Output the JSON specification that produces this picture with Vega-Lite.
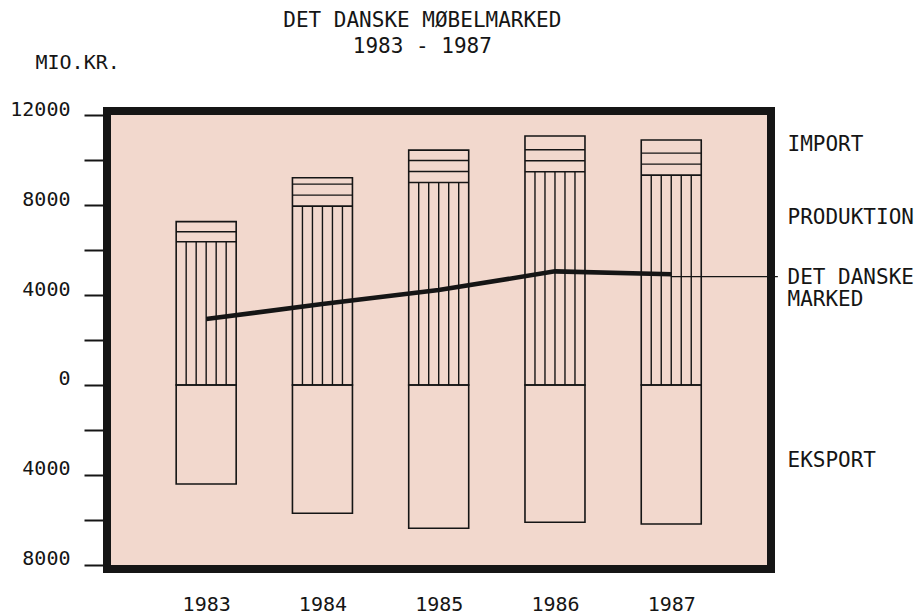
{
  "$schema": "https://vega.github.io/schema/vega-lite/v6.json",
  "width": 664,
  "height": 458,
  "autosize": "none",
  "padding": {"left": 107, "top": 111, "right": 149, "bottom": 45},
  "background": "white",
  "config": {
    "view": {"stroke": "#151515", "strokeWidth": 8, "fill": "#f2d8cd"},
    "font": "DejaVu Sans Mono"
  },
  "data": {
    "values": [
      {"year": 1983, "produktion": 6370, "forsyning": 7260, "eksport": -4400, "marked": 2930},
      {"year": 1984, "produktion": 7950, "forsyning": 9210, "eksport": -5700, "marked": 3600},
      {"year": 1985, "produktion": 9000, "forsyning": 10440, "eksport": -6370, "marked": 4220},
      {"year": 1986, "produktion": 9480, "forsyning": 11070, "eksport": -6100, "marked": 5050},
      {"year": 1987, "produktion": 9330, "forsyning": 10890, "eksport": -6180, "marked": 4920}
    ]
  },
  "layer": [
    {
      "mark": {"type": "rule", "stroke": "#151515", "strokeWidth": 1.5},
      "encoding": {
        "x": {
          "field": "year", "type": "quantitative", "title": null,
          "scale": {"domain": [1982.19, 1987.815], "nice": false, "zero": false},
          "axis": {
            "values": [1983, 1984, 1985, 1986, 1987],
            "format": "d",
            "ticks": false,
            "tickSize": 0,
            "domain": false,
            "grid": false,
            "labelFont": "DejaVu Sans Mono",
            "labelFontSize": 20,
            "labelColor": "#151515",
            "labelBaseline": "alphabetic",
            "labelPadding": 41,
            "labelFlush": false
          }
        },
        "y": {
          "datum": 0, "type": "quantitative", "title": "MIO.KR.",
          "scale": {"domain": [-8178, 12178], "nice": false, "zero": false},
          "axis": {
            "values": [-8000, -6000, -4000, -2000, 0, 2000, 4000, 6000, 8000, 10000, 12000],
            "labelExpr": "datum.value % 4000 == 0 ? format(abs(datum.value), 'd') : ''",
            "domain": false,
            "grid": false,
            "tickSize": 23,
            "tickWidth": 2,
            "tickColor": "#151515",
            "labelFont": "DejaVu Sans Mono",
            "labelFontSize": 20,
            "labelColor": "#151515",
            "labelBaseline": "alphabetic",
            "labelPadding": 14,
            "labelFlush": false,
            "titleFont": "DejaVu Sans Mono",
            "titleFontSize": 20,
            "titleFontWeight": "normal",
            "titleColor": "#151515",
            "titleAngle": 0,
            "titleAlign": "left",
            "titleBaseline": "alphabetic",
            "titleX": -72,
            "titleY": -43
          }
        }
      }
    },
    {
      "mark": {"type": "rule", "xOffset": -20, "stroke": "#151515", "strokeWidth": 1.4},
      "encoding": {
        "x": {"field": "year", "type": "quantitative", "title": null},
        "y": {"field": "produktion", "type": "quantitative", "title": "MIO.KR."},
        "y2": {"datum": 0}
      }
    },
    {
      "mark": {"type": "rule", "xOffset": -10, "stroke": "#151515", "strokeWidth": 1.4},
      "encoding": {
        "x": {"field": "year", "type": "quantitative", "title": null},
        "y": {"field": "produktion", "type": "quantitative", "title": "MIO.KR."},
        "y2": {"datum": 0}
      }
    },
    {
      "mark": {"type": "rule", "xOffset": 0, "stroke": "#151515", "strokeWidth": 1.4},
      "encoding": {
        "x": {"field": "year", "type": "quantitative", "title": null},
        "y": {"field": "produktion", "type": "quantitative", "title": "MIO.KR."},
        "y2": {"datum": 0}
      }
    },
    {
      "mark": {"type": "rule", "xOffset": 10, "stroke": "#151515", "strokeWidth": 1.4},
      "encoding": {
        "x": {"field": "year", "type": "quantitative", "title": null},
        "y": {"field": "produktion", "type": "quantitative", "title": "MIO.KR."},
        "y2": {"datum": 0}
      }
    },
    {
      "mark": {"type": "rule", "xOffset": 20, "stroke": "#151515", "strokeWidth": 1.4},
      "encoding": {
        "x": {"field": "year", "type": "quantitative", "title": null},
        "y": {"field": "produktion", "type": "quantitative", "title": "MIO.KR."},
        "y2": {"datum": 0}
      }
    },
    {
      "mark": {"type": "bar", "width": 60, "fill": "transparent", "stroke": "#151515", "strokeWidth": 1.6},
      "encoding": {
        "x": {"field": "year", "type": "quantitative", "title": null},
        "y": {"field": "forsyning", "type": "quantitative", "title": "MIO.KR."},
        "y2": {"datum": 0}
      }
    },
    {
      "mark": {"type": "bar", "width": 60, "fill": "transparent", "stroke": "#151515", "strokeWidth": 1.6},
      "encoding": {
        "x": {"field": "year", "type": "quantitative", "title": null},
        "y": {"field": "eksport", "type": "quantitative", "title": "MIO.KR."},
        "y2": {"datum": 0}
      }
    },
    {
      "mark": {"type": "tick", "orient": "horizontal", "size": 60, "thickness": 1.6, "color": "#151515", "opacity": 1},
      "encoding": {
        "x": {"field": "year", "type": "quantitative", "title": null},
        "y": {"field": "produktion", "type": "quantitative", "title": "MIO.KR."}
      }
    },
    {
      "transform": [{"filter": "datum.forsyning - datum.produktion < 1000"}],
      "mark": {"type": "tick", "orient": "horizontal", "size": 60, "thickness": 1.4, "yOffset": -10, "color": "#151515", "opacity": 1},
      "encoding": {
        "x": {"field": "year", "type": "quantitative", "title": null},
        "y": {"field": "produktion", "type": "quantitative", "title": "MIO.KR."}
      }
    },
    {
      "transform": [{"filter": "datum.forsyning - datum.produktion >= 1000"}],
      "mark": {"type": "tick", "orient": "horizontal", "size": 60, "thickness": 1.4, "yOffset": -11, "color": "#151515", "opacity": 1},
      "encoding": {
        "x": {"field": "year", "type": "quantitative", "title": null},
        "y": {"field": "produktion", "type": "quantitative", "title": "MIO.KR."}
      }
    },
    {
      "transform": [{"filter": "datum.forsyning - datum.produktion >= 1000"}],
      "mark": {"type": "tick", "orient": "horizontal", "size": 60, "thickness": 1.4, "yOffset": -22, "color": "#151515", "opacity": 1},
      "encoding": {
        "x": {"field": "year", "type": "quantitative", "title": null},
        "y": {"field": "produktion", "type": "quantitative", "title": "MIO.KR."}
      }
    },
    {
      "mark": {"type": "line", "stroke": "#151515", "strokeWidth": 4.5, "strokeCap": "butt"},
      "encoding": {
        "x": {"field": "year", "type": "quantitative", "title": null},
        "y": {"field": "marked", "type": "quantitative", "title": "MIO.KR."}
      }
    },
    {
      "data": {"values": [{}]},
      "mark": {"type": "rule", "stroke": "#151515", "strokeWidth": 1.2},
      "encoding": {
        "x": {"datum": 1987, "type": "quantitative"},
        "x2": {"datum": 1987.917},
        "y": {"datum": 4820, "type": "quantitative"}
      }
    },
    {
      "data": {"values": [{}]},
      "mark": {"type": "text", "align": "center", "baseline": "alphabetic", "font": "DejaVu Sans Mono", "fontSize": 21, "color": "#151515"},
      "encoding": {
        "x": {"datum": 1984.859, "type": "quantitative"},
        "y": {"datum": 15911, "type": "quantitative"},
        "text": {"value": "DET DANSKE MØBELMARKED"}
      }
    },
    {
      "data": {"values": [{}]},
      "mark": {"type": "text", "align": "center", "baseline": "alphabetic", "font": "DejaVu Sans Mono", "fontSize": 21, "color": "#151515"},
      "encoding": {
        "x": {"datum": 1984.859, "type": "quantitative"},
        "y": {"datum": 14756, "type": "quantitative"},
        "text": {"value": "1983 - 1987"}
      }
    },
    {
      "data": {"values": [{}]},
      "mark": {"type": "text", "align": "left", "baseline": "alphabetic", "font": "DejaVu Sans Mono", "fontSize": 21, "color": "#151515"},
      "encoding": {
        "x": {"datum": 1988.0, "type": "quantitative"},
        "y": {"datum": 10400, "type": "quantitative"},
        "text": {"value": "IMPORT"}
      }
    },
    {
      "data": {"values": [{}]},
      "mark": {"type": "text", "align": "left", "baseline": "alphabetic", "font": "DejaVu Sans Mono", "fontSize": 21, "color": "#151515"},
      "encoding": {
        "x": {"datum": 1988.0, "type": "quantitative"},
        "y": {"datum": 7156, "type": "quantitative"},
        "text": {"value": "PRODUKTION"}
      }
    },
    {
      "data": {"values": [{}]},
      "mark": {"type": "text", "align": "left", "baseline": "alphabetic", "font": "DejaVu Sans Mono", "fontSize": 21, "color": "#151515"},
      "encoding": {
        "x": {"datum": 1988.0, "type": "quantitative"},
        "y": {"datum": 4489, "type": "quantitative"},
        "text": {"value": "DET DANSKE"}
      }
    },
    {
      "data": {"values": [{}]},
      "mark": {"type": "text", "align": "left", "baseline": "alphabetic", "font": "DejaVu Sans Mono", "fontSize": 21, "color": "#151515"},
      "encoding": {
        "x": {"datum": 1988.0, "type": "quantitative"},
        "y": {"datum": 3511, "type": "quantitative"},
        "text": {"value": "MARKED"}
      }
    },
    {
      "data": {"values": [{}]},
      "mark": {"type": "text", "align": "left", "baseline": "alphabetic", "font": "DejaVu Sans Mono", "fontSize": 21, "color": "#151515"},
      "encoding": {
        "x": {"datum": 1988.0, "type": "quantitative"},
        "y": {"datum": -3644, "type": "quantitative"},
        "text": {"value": "EKSPORT"}
      }
    }
  ]
}
